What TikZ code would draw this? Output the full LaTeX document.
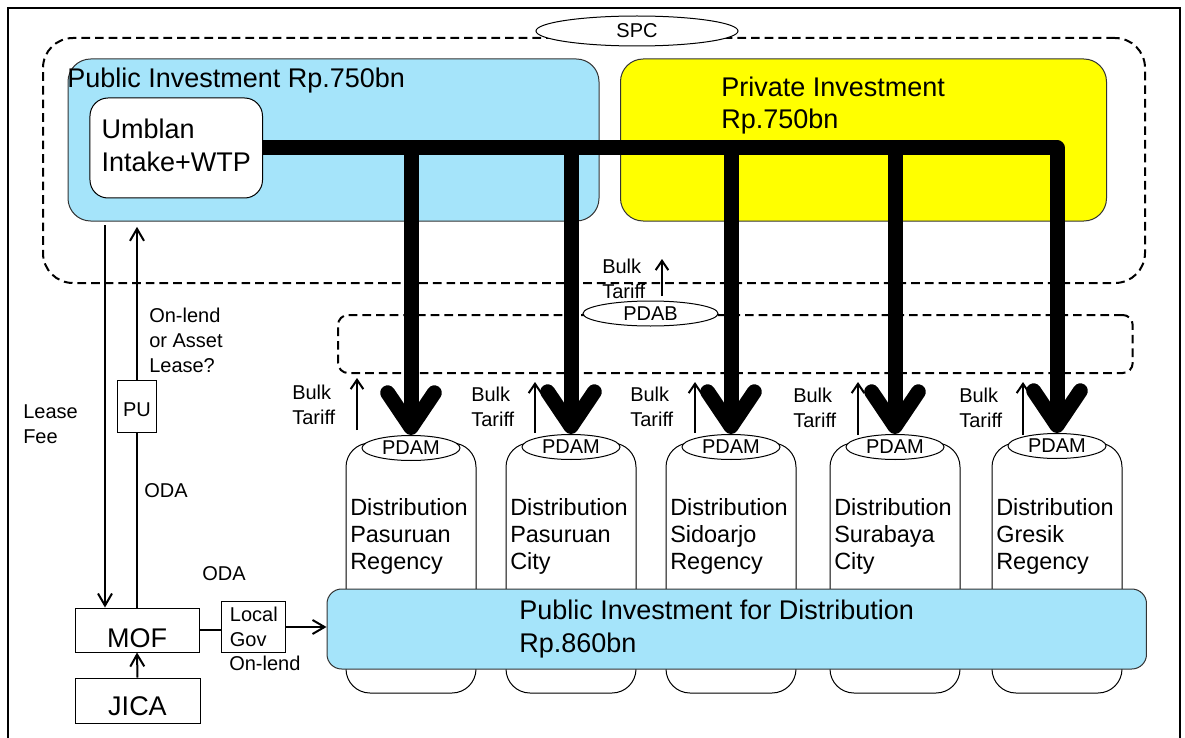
\documentclass[tikz,border=0pt]{standalone}
\usepackage{fontspec}
\setmainfont{Liberation Sans}
\usetikzlibrary{arrows.meta,shapes.geometric}
\definecolor{pubblue}{RGB}{165,228,250}
\definecolor{privyellow}{RGB}{255,255,0}

\begin{document}
\begin{tikzpicture}[x=0.75pt,y=-0.75pt,
  bigtxt/.style={font=\fontsize{20.25pt}{24.4pt}\selectfont},
  midtxt/.style={font=\fontsize{17.6pt}{20pt}\selectfont},
  smalltxt/.style={font=\fontsize{15pt}{18.5pt}\selectfont},
  note/.style={smalltxt,align=left,anchor=base west,inner sep=0pt},
  invbox/.style={draw=black!80,line width=0.75pt,rounded corners=17pt},
  dashbox/.style={draw,line width=1.5pt,dash pattern=on 6.5pt off 3.75pt,inner sep=0pt},
  oval/.style={ellipse,draw,fill=white,line width=0.75pt,inner sep=0pt,smalltxt},
  cyl/.style={draw,fill=white,line width=0.75pt,rounded corners=18pt,minimum width=97.5pt,minimum height=187.5pt},
  boxw/.style={draw,fill=white,line width=0.75pt,inner sep=0pt},
  pipe/.style={line width=11.25pt,line join=round,-{Straight Barb[length=26pt,width=35pt,round]}},
  tariff/.style={line width=1.5pt,-{Straight Barb[length=7pt,width=9.5pt]}},
  flow/.style={line width=1.5pt,-{Straight Barb[length=9pt,width=10.5pt]}}]
\useasboundingbox (0,0) rectangle (1185,738);
\draw[line width=1.5pt] (8,745) -- (8,8) -- (1180,8) -- (1180,745);

% SPC
\node[dashbox,rounded corners=22.5pt,minimum width=826.5pt,minimum height=183.75pt] (spcbox) at (594,160.5) {};
\node[oval,minimum width=151.5pt,minimum height=22.5pt] (spc) at (637,31) {SPC};
\node[invbox,fill=pubblue,minimum width=398.25pt,minimum height=121.5pt] (pubinv) at (333.5,140) {};
\node[bigtxt,anchor=base west,inner sep=0pt] (pubtitle) at (67,88) {Public Investment Rp.750bn};
\node[invbox,fill=privyellow,minimum width=364.5pt,minimum height=121.5pt] (privinv) at (863.5,140) {};
\node[bigtxt,align=left,anchor=base west,inner sep=0pt] (privtxt) at (721,129) {Private Investment\\Rp.750bn};
\node[boxw,rounded corners=13.5pt,bigtxt,align=left,minimum width=129.4pt,minimum height=75pt] (umblan) at (176.25,148) {Umblan\\Intake+WTP\vphantom{g}};

% PDAB
\node[dashbox,rounded corners=7.5pt,minimum width=596pt,minimum height=43.5pt] (pdabbox) at (735.35,344) {};
\node[oval,minimum width=101.25pt,minimum height=18.75pt] (pdab) at (650.5,313.5) {PDAB};

% PDAM
\node[cyl] (dist1) at (411,568) {};
\node[cyl] (dist2) at (571,568) {};
\node[cyl] (dist3) at (731,568) {};
\node[cyl] (dist4) at (895,568) {};
\node[cyl] (dist5) at (1057,568) {};
\node[midtxt,align=left,anchor=base west,inner sep=0pt] (dtxt1) at (350,569) {Distribution\\Pasuruan\\Regency};
\node[midtxt,align=left,anchor=base west,inner sep=0pt] (dtxt2) at (510,569) {Distribution\\Pasuruan\\City};
\node[midtxt,align=left,anchor=base west,inner sep=0pt] (dtxt3) at (670,569) {Distribution\\Sidoarjo\\Regency};
\node[midtxt,align=left,anchor=base west,inner sep=0pt] (dtxt4) at (834,569) {Distribution\\Surabaya\\City};
\node[midtxt,align=left,anchor=base west,inner sep=0pt] (dtxt5) at (996,569) {Distribution\\Gresik\\Regency};
\node[oval,minimum width=73.5pt,minimum height=18.75pt] (pdam1) at (411,448) {PDAM};
\node[oval,minimum width=73.5pt,minimum height=18.75pt] (pdam2) at (571,447) {PDAM};
\node[oval,minimum width=73.5pt,minimum height=18.75pt] (pdam3) at (731,447) {PDAM};
\node[oval,minimum width=73.5pt,minimum height=18.75pt] (pdam4) at (895,447) {PDAM};
\node[oval,minimum width=73.5pt,minimum height=18.75pt] (pdam5) at (1057,446) {PDAM};
\node[invbox,rounded corners=11pt,fill=pubblue,minimum width=614.6pt,minimum height=60pt] (pubdist) at (736.75,629) {};
\node[bigtxt,align=left,anchor=base west,inner sep=0pt] (pubdisttxt) at (519,652) {Public Investment for Distribution\\Rp.860bn};

% bulk water
\draw[pipe] (umblan.east) -| (pdam5.north);
\draw[pipe] (umblan.east -| pdam1.north) -- (pdam1.north);
\draw[pipe] (umblan.east -| pdam2.north) -- (pdam2.north);
\draw[pipe] (umblan.east -| pdam3.north) -- (pdam3.north);
\draw[pipe] (umblan.east -| pdam4.north) -- (pdam4.north);

% tariffs
\coordinate (t0) at (662,296); \coordinate (t0end) at (662,259);
\draw[tariff] (t0) -- (t0end);
\node[note] (bt0) at (602,298) {Bulk\\Tariff};
\coordinate (t1) at (357,430);
\draw[tariff,shorten >=3pt] (t1) -- (t1 |- pdabbox.south);
\node[note] (bt1) at (292,424) {Bulk\\Tariff};
\coordinate (t2) at (535,433);
\draw[tariff,shorten >=6pt] (t2) -- (t2 |- pdabbox.south);
\node[note] (bt2) at (471,426) {Bulk\\Tariff};
\coordinate (t3) at (695,433);
\draw[tariff,shorten >=6pt] (t3) -- (t3 |- pdabbox.south);
\node[note] (bt3) at (630,426) {Bulk\\Tariff};
\coordinate (t4) at (858,435);
\draw[tariff,shorten >=6pt] (t4) -- (t4 |- pdabbox.south);
\node[note] (bt4) at (793,427) {Bulk\\Tariff};
\coordinate (t5) at (1023,435);
\draw[tariff,shorten >=6pt] (t5) -- (t5 |- pdabbox.south);
\node[note] (bt5) at (959,427) {Bulk\\Tariff};

% finance
\node[boxw,bigtxt,minimum width=93pt,minimum height=33pt,text height=25.5pt,text depth=0pt] (mof) at (137,630) {MOF};
\node[boxw,bigtxt,minimum width=93.75pt,minimum height=33.75pt,text height=21.75pt,text depth=0pt] (jica) at (137.5,700.5) {JICA};
\node[boxw,smalltxt,minimum width=29.25pt,minimum height=39pt,text height=16pt,text depth=0pt] (pu) at (137,406) {PU};
\node[boxw,smalltxt,align=left,minimum width=48.2pt,minimum height=38.5pt] (localgov) at (253.8,627) {Local\\Gov};
\coordinate (leasetop) at (105,225);
\draw[flow] (leasetop) -- (leasetop |- mof.north);
\draw[line width=1.5pt] (mof.north) -- (pu.south);
\draw[flow,shorten >=4pt] (pu.north) -- (pu.north |- pubinv.south);
\draw[flow] (jica.north) -- (mof.south);
\draw[line width=1.5pt] (mof.east) -- (mof.east -| localgov.west);
\draw[flow] (localgov.east) -- (localgov.east -| pubdist.west);
\node[note] (leasefee) at (23,443) {Lease\\Fee};
\node[note] (onlend) at (149,372) {On-lend\\or Asset\\Lease?};
\node[note] (oda1) at (144,497) {ODA};
\node[note] (oda2) at (202,580) {ODA};
\node[note] (onlend2) at (229,670) {On-lend};
\end{tikzpicture}
\end{document}
